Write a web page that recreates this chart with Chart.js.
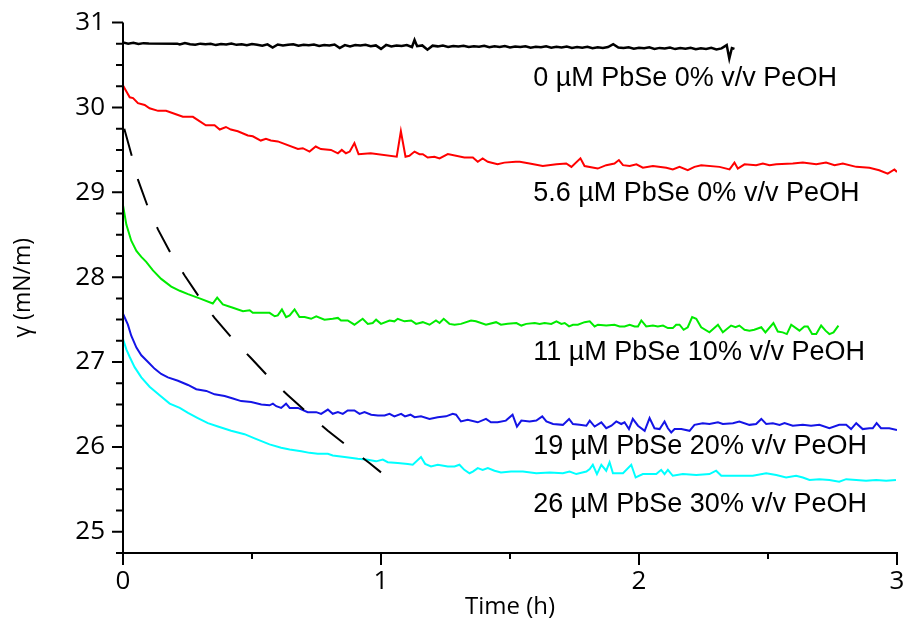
<!DOCTYPE html>
<html>
<head>
<meta charset="utf-8">
<script src="https://cdn.jsdelivr.net/npm/chart.js@4.4.0/dist/chart.umd.min.js"></script>
<style>
  html, body { margin: 0; padding: 0; background: #fff; }
</style>
</head>
<body>
<canvas id="myChart" width="908" height="629"></canvas>
<script>
// surface tension vs time
const seriesNames = [
    '0 µM PbSe 0% v/v PeOH',
    '5.6 µM PbSe 0% v/v PeOH',
    '11 µM PbSe 10% v/v PeOH',
    '19 µM PbSe 20% v/v PeOH',
    '26 µM PbSe 30% v/v PeOH',
];

const xMajor = [0, 1, 2, 3];
const xMinor = [0.5, 1.5, 2.5];
const yMajor = [25, 26, 27, 28, 29, 30, 31];
const yMinor = [24.75, 25.25, 25.5, 25.75, 26.25, 26.5, 26.75, 27.25, 27.5, 27.75, 28.25, 28.5, 28.75,
    29.25, 29.5, 29.75, 30.25, 30.5, 30.75];

const blackTime = [0, 0.02, 0.04, 0.06, 0.08, 0.10, 0.21, 0.22, 0.24, 0.26,
    0.28, 0.30, 0.32, 0.34, 0.36, 0.38, 0.40, 0.42, 0.44, 0.46,
    0.48, 0.50, 0.52, 0.54, 0.56, 0.58, 0.60, 0.62, 0.64, 0.66,
    0.68, 0.70, 0.72, 0.74, 0.76, 0.78, 0.80, 0.82, 0.84, 0.86,
    0.88, 0.90, 0.92, 0.94, 0.96, 0.98, 1.00, 1.02, 1.04, 1.06,
    1.08, 1.10, 1.12, 1.13, 1.14, 1.16, 1.18, 1.20, 1.22, 1.24,
    1.26, 1.28, 1.30, 1.32, 1.34, 1.36, 1.38, 1.40, 1.42, 1.44,
    1.46, 1.48, 1.50, 1.52, 1.54, 1.56, 1.58, 1.60, 1.62, 1.64,
    1.66, 1.68, 1.70, 1.72, 1.74, 1.76, 1.78, 1.80, 1.82, 1.84,
    1.86, 1.88, 1.90, 1.92, 1.94, 1.96, 1.98, 2.00, 2.02, 2.04,
    2.06, 2.08, 2.10, 2.12, 2.14, 2.16, 2.18, 2.20, 2.22, 2.24,
    2.26, 2.28, 2.30, 2.32, 2.34, 2.35, 2.36, 2.37];
const blackVals = [30.765, 30.752, 30.761, 30.748, 30.758, 30.755, 30.752, 30.742, 30.760, 30.745,
    30.738, 30.752, 30.744, 30.750, 30.735, 30.748, 30.742, 30.754, 30.738, 30.745,
    30.733, 30.747, 30.740, 30.728, 30.744, 30.705, 30.742, 30.730, 30.739, 30.745,
    30.727, 30.738, 30.733, 30.741, 30.724, 30.737, 30.730, 30.742, 30.700, 30.735,
    30.720, 30.736, 30.729, 30.738, 30.722, 30.731, 30.690, 30.737, 30.718, 30.730,
    30.724, 30.735, 30.712, 30.795, 30.722, 30.731, 30.680, 30.728, 30.720, 30.730,
    30.714, 30.725, 30.719, 30.728, 30.712, 30.722, 30.716, 30.727, 30.709, 30.720,
    30.714, 30.724, 30.707, 30.718, 30.712, 30.722, 30.705, 30.716, 30.709, 30.720,
    30.703, 30.714, 30.708, 30.718, 30.700, 30.712, 30.704, 30.714, 30.698, 30.709,
    30.702, 30.712, 30.745, 30.706, 30.700, 30.710, 30.693, 30.704, 30.697, 30.708,
    30.690, 30.702, 30.695, 30.706, 30.688, 30.700, 30.693, 30.704, 30.686, 30.698,
    30.690, 30.702, 30.684, 30.696, 30.735, 30.575, 30.700, 30.690];

const redTime = [0, 0.026, 0.039, 0.058, 0.084, 0.103, 0.136, 0.167, 0.205, 0.232,
    0.271, 0.321, 0.355, 0.375, 0.399, 0.418, 0.445, 0.484, 0.503, 0.534,
    0.554, 0.573, 0.600, 0.678, 0.697, 0.723, 0.747, 0.767, 0.806, 0.833,
    0.848, 0.864, 0.879, 0.897, 0.913, 0.960, 1.061, 1.077, 1.095, 1.110,
    1.130, 1.149, 1.162, 1.181, 1.207, 1.227, 1.259, 1.323, 1.356, 1.375,
    1.394, 1.414, 1.452, 1.478, 1.522, 1.538, 1.576, 1.627, 1.680, 1.718,
    1.738, 1.773, 1.789, 1.840, 1.873, 1.905, 1.922, 1.938, 1.964, 1.990,
    2.015, 2.054, 2.106, 2.131, 2.157, 2.189, 2.215, 2.241, 2.312, 2.351,
    2.370, 2.383, 2.409, 2.454, 2.480, 2.506, 2.532, 2.596, 2.635, 2.687,
    2.725, 2.758, 2.790, 2.842, 2.893, 2.931, 2.964, 2.990, 3.0];
const redVals = [30.26, 30.12, 30.11, 30.05, 30.03, 29.99, 29.96, 29.96, 29.92, 29.89,
    29.89, 29.79, 29.79, 29.74, 29.77, 29.74, 29.72, 29.67, 29.66, 29.61,
    29.63, 29.61, 29.60, 29.51, 29.52, 29.48, 29.54, 29.51, 29.50, 29.46,
    29.50, 29.46, 29.48, 29.58, 29.45, 29.46, 29.42, 29.72, 29.42, 29.43,
    29.48, 29.45, 29.45, 29.41, 29.42, 29.40, 29.45, 29.41, 29.41, 29.36,
    29.40, 29.36, 29.33, 29.35, 29.36, 29.36, 29.34, 29.31, 29.33, 29.34,
    29.30, 29.40, 29.31, 29.28, 29.32, 29.34, 29.38, 29.32, 29.31, 29.33,
    29.29, 29.31, 29.29, 29.27, 29.30, 29.26, 29.30, 29.32, 29.30, 29.27,
    29.35, 29.28, 29.33, 29.32, 29.34, 29.32, 29.33, 29.34, 29.35, 29.33,
    29.35, 29.32, 29.34, 29.30, 29.29, 29.26, 29.22, 29.27, 29.24];

const greenTime = [0, 0.013, 0.032, 0.052, 0.071, 0.090, 0.116, 0.148, 0.187, 0.220,
    0.252, 0.297, 0.348, 0.365, 0.387, 0.426, 0.465, 0.491, 0.503, 0.568,
    0.588, 0.600, 0.616, 0.632, 0.646, 0.665, 0.684, 0.704, 0.729, 0.749,
    0.781, 0.813, 0.833, 0.845, 0.871, 0.897, 0.929, 0.949, 0.968, 0.981,
    1.000, 1.033, 1.052, 1.065, 1.091, 1.117, 1.136, 1.162, 1.188, 1.213,
    1.227, 1.243, 1.265, 1.285, 1.310, 1.349, 1.368, 1.407, 1.446, 1.465,
    1.491,
    1.525, 1.544, 1.563, 1.596, 1.615, 1.634, 1.660, 1.680, 1.699, 1.712,
    1.729, 1.744, 1.763, 1.789, 1.809, 1.828, 1.841, 1.873, 1.905, 1.925,
    1.944, 1.964, 1.983, 1.996, 2.009, 2.028, 2.054, 2.073, 2.093, 2.112,
    2.131, 2.144, 2.157, 2.173, 2.189, 2.206, 2.222, 2.241, 2.273, 2.306,
    2.325, 2.357, 2.374, 2.389, 2.409, 2.428, 2.447, 2.474, 2.490, 2.521,
    2.538, 2.557, 2.573, 2.590, 2.622, 2.641, 2.654, 2.671, 2.687, 2.706,
    2.723, 2.738, 2.754, 2.773];
const greenVals = [28.85, 28.62, 28.43, 28.31, 28.24, 28.18, 28.08, 27.98, 27.89, 27.84,
    27.80, 27.75, 27.69, 27.76, 27.68, 27.64, 27.60, 27.61, 27.58, 27.58,
    27.54, 27.55, 27.62, 27.53, 27.55, 27.62, 27.53, 27.53, 27.51, 27.54,
    27.50, 27.51, 27.52, 27.49, 27.49, 27.44, 27.51, 27.45, 27.46, 27.50,
    27.45, 27.49, 27.48, 27.51, 27.48, 27.49, 27.45, 27.47, 27.44, 27.49,
    27.46, 27.51, 27.45, 27.44, 27.45, 27.49, 27.48, 27.44, 27.47, 27.44,
    27.45,
    27.46, 27.43, 27.45, 27.46, 27.45, 27.46, 27.45, 27.48, 27.45, 27.46,
    27.42, 27.44, 27.44, 27.47, 27.48, 27.42, 27.44, 27.43, 27.44, 27.42,
    27.42, 27.44, 27.42, 27.42, 27.49, 27.42, 27.43, 27.42, 27.43, 27.40,
    27.40, 27.44, 27.44, 27.38, 27.41, 27.53, 27.51, 27.41, 27.35, 27.44,
    27.35, 27.43, 27.41, 27.43, 27.38, 27.37, 27.38, 27.41, 27.35, 27.46,
    27.36, 27.35, 27.33, 27.44, 27.37, 27.42, 27.42, 27.33, 27.33, 27.43,
    27.37, 27.33, 27.35, 27.43];

const blueTime = [0, 0.019, 0.032, 0.052, 0.071, 0.097, 0.123, 0.148, 0.174, 0.213,
    0.252, 0.284, 0.323, 0.355, 0.394, 0.426, 0.458, 0.497, 0.536, 0.568,
    0.581, 0.594, 0.613, 0.632, 0.646, 0.678, 0.716, 0.749, 0.768, 0.794,
    0.813, 0.833, 0.852, 0.871, 0.897, 0.917, 0.936, 0.962, 0.988, 1.014,
    1.033, 1.052, 1.078, 1.093, 1.114, 1.130, 1.155, 1.188, 1.220, 1.252,
    1.278, 1.291, 1.310, 1.336, 1.375, 1.407, 1.426, 1.452, 1.484, 1.510,
    1.527, 1.544, 1.576, 1.602, 1.625, 1.641, 1.667, 1.705, 1.729, 1.744,
    1.770, 1.796, 1.809, 1.828, 1.854, 1.873, 1.893, 1.912, 1.931, 1.944,
    1.961, 1.976, 1.996, 2.022, 2.041, 2.060, 2.080, 2.099, 2.112, 2.125,
    2.138, 2.164, 2.196, 2.215, 2.247, 2.273, 2.306, 2.325, 2.364, 2.389,
    2.428, 2.454, 2.474, 2.493, 2.519, 2.545, 2.564, 2.596, 2.635, 2.667,
    2.699, 2.738, 2.776, 2.803, 2.822, 2.842, 2.867, 2.893, 2.906, 2.921,
    2.938, 2.970, 3.0];
const blueVals = [27.57, 27.44, 27.31, 27.17, 27.08, 27.00, 26.92, 26.86, 26.82, 26.78,
    26.73, 26.68, 26.66, 26.62, 26.60, 26.57, 26.54, 26.53, 26.50, 26.49,
    26.51, 26.48, 26.46, 26.51, 26.46, 26.46, 26.41, 26.41, 26.39, 26.44,
    26.39, 26.41, 26.39, 26.43, 26.43, 26.39, 26.41, 26.38, 26.37, 26.37,
    26.39, 26.36, 26.39, 26.36, 26.38, 26.35, 26.36, 26.33, 26.35, 26.36,
    26.39, 26.38, 26.30, 26.32, 26.29, 26.33, 26.29, 26.29, 26.31, 26.38,
    26.24, 26.31, 26.30, 26.31, 26.36, 26.30, 26.27, 26.26, 26.33, 26.27,
    26.26, 26.25, 26.31, 26.24, 26.29, 26.22, 26.25, 26.30, 26.27, 26.29,
    26.21, 26.33, 26.25, 26.19, 26.34, 26.22, 26.21, 26.30, 26.22, 26.17,
    26.21, 26.21, 26.19, 26.26, 26.28, 26.27, 26.29, 26.27, 26.28, 26.30,
    26.26, 26.27, 26.33, 26.27, 26.28, 26.26, 26.28, 26.25, 26.26, 26.25,
    26.26, 26.22, 26.26, 26.26, 26.21, 26.28, 26.21, 26.22, 26.22, 26.28,
    26.22, 26.22, 26.20];

const cyanTime = [0, 0.013, 0.026, 0.045, 0.071, 0.103, 0.142, 0.181, 0.220, 0.252,
    0.290, 0.329, 0.368, 0.419, 0.471, 0.510, 0.568, 0.613, 0.646, 0.691,
    0.723, 0.755, 0.794, 0.813, 0.859, 0.910, 0.949, 0.981, 1.007, 1.026,
    1.065, 1.104, 1.123, 1.155, 1.171, 1.194, 1.220, 1.259, 1.285, 1.304,
    1.323, 1.343, 1.356, 1.375, 1.394, 1.414, 1.440, 1.465, 1.504, 1.550,
    1.602, 1.654, 1.705, 1.731, 1.757, 1.796, 1.809, 1.821, 1.837, 1.854,
    1.873, 1.886, 1.899, 1.938, 1.970, 1.987, 2.015, 2.067, 2.086, 2.099,
    2.112, 2.131, 2.170, 2.222, 2.273, 2.299, 2.319, 2.377, 2.441, 2.493,
    2.532, 2.570, 2.609, 2.635, 2.661, 2.699, 2.738, 2.776, 2.803, 2.842,
    2.880, 2.919, 2.958, 2.996];
const cyanVals = [27.27, 27.15, 27.06, 26.94, 26.82, 26.71, 26.61, 26.51, 26.46, 26.40,
    26.34, 26.28, 26.24, 26.19, 26.15, 26.10, 26.03, 25.99, 25.97, 25.95,
    25.93, 25.92, 25.92, 25.90, 25.88, 25.86, 25.85, 25.83, 25.85, 25.82,
    25.81, 25.80, 25.79, 25.88, 25.80, 25.77, 25.79, 25.77, 25.77, 25.79,
    25.73, 25.69, 25.71, 25.75, 25.73, 25.75, 25.72, 25.70, 25.71, 25.71,
    25.69, 25.70, 25.69, 25.71, 25.68, 25.71, 25.74, 25.79, 25.68, 25.79,
    25.72, 25.82, 25.69, 25.69, 25.79, 25.64, 25.68, 25.68, 25.73, 25.68,
    25.73, 25.66, 25.68, 25.67, 25.68, 25.72, 25.66, 25.66, 25.66, 25.69,
    25.67, 25.64, 25.66, 25.64, 25.61, 25.62, 25.61, 25.59, 25.62, 25.61,
    25.60, 25.61, 25.60, 25.61];

// dashed guide line
const dashTime = [0.005, 0.034, 0.059, 0.096, 0.136, 0.187, 0.239, 0.301, 0.355, 0.426,
    0.495, 0.569, 0.639, 0.719, 0.794, 0.878, 0.955, 1.0];
const dashVals = [29.75, 29.43, 29.14, 28.83, 28.56, 28.27, 28.02, 27.74, 27.52, 27.27,
    27.05, 26.81, 26.61, 26.39, 26.19, 25.99, 25.81, 25.70];

function pts(ts, vs) {
    return ts.map((t, i) => ({ x: t, y: vs[i] }));
}

const tickFont = { family: '"Open Sans", sans-serif', size: 26 };
const black = '#000';

// axes lines, in/out ticks and the curve captions
const axisPlugin = {
    id: 'axisPlugin',
    afterDraw(chart) {
        const ctx = chart.ctx;
        const xs = chart.scales.x;
        const ys = chart.scales.y;
        const left = xs.getPixelForValue(0);
        const right = xs.getPixelForValue(3);
        const top = ys.getPixelForValue(31);
        const bottom = ys.getPixelForValue(24.75);
        ctx.save();
        ctx.strokeStyle = black;
        ctx.lineWidth = 2;
        ctx.beginPath();
        ctx.moveTo(left, top);
        ctx.lineTo(left, bottom);
        ctx.moveTo(left, bottom);
        ctx.lineTo(right + 1, bottom);
        yMajor.forEach(v => {
            const p = ys.getPixelForValue(v);
            ctx.moveTo(left - 11, p);
            ctx.lineTo(left, p);
        });
        yMinor.forEach(v => {
            const p = ys.getPixelForValue(v);
            ctx.moveTo(left - 7, p);
            ctx.lineTo(left, p);
        });
        xMajor.forEach(v => {
            const p = xs.getPixelForValue(v);
            ctx.moveTo(p, bottom);
            ctx.lineTo(p, bottom + 12);
        });
        xMinor.forEach(v => {
            const p = xs.getPixelForValue(v);
            ctx.moveTo(p, bottom);
            ctx.lineTo(p, bottom + 6);
        });
        ctx.stroke();

        const captionY = [30.258, 28.90, 27.02, 25.92, 25.234];
        ctx.fillStyle = black;
        ctx.font = '27px "Liberation Sans", Arial, sans-serif';
        ctx.textAlign = 'left';
        ctx.textBaseline = 'alphabetic';
        seriesNames.forEach((s, i) => {
            ctx.fillText(s, xs.getPixelForValue(1.59), ys.getPixelForValue(captionY[i]));
        });
        ctx.restore();
    }
};

const line = (data, color, width) => ({
    data: data,
    borderColor: color,
    backgroundColor: color,
    borderWidth: width || 2,
    pointRadius: 0,
    tension: 0,
    fill: false,
});

const data = {
    datasets: [
        Object.assign(line(pts(dashTime, dashVals), black), { borderDash: [28, 24] }),
        line(pts(blackTime, blackVals), black, 2.5),
        line(pts(redTime, redVals), 'rgb(255, 0, 0)'),
        line(pts(greenTime, greenVals), 'rgb(0, 235, 0)'),
        line(pts(blueTime, blueVals), 'rgb(20, 20, 230)'),
        line(pts(cyanTime, cyanVals), 'rgb(0, 255, 255)'),
    ]
};

const config = {
    type: 'line',
    data: data,
    options: {
        responsive: false,
        animation: false,
        devicePixelRatio: 1,
        layout: { padding: { top: 15, right: 11, left: 0, bottom: 0 } },
        plugins: { legend: { display: false }, tooltip: { enabled: false } },
        scales: {
            x: {
                type: 'linear',
                min: 0,
                max: 3,
                afterFit: s => { s.height = 76; },
                afterBuildTicks: s => { s.ticks = xMajor.map(v => ({ value: v })); },
                grid: { display: false, drawTicks: true, tickLength: 12 },
                border: { display: false },
                ticks: { color: black, font: tickFont, padding: 1, autoSkip: false, maxRotation: 0 },
                title: {
                    display: true,
                    text: 'Time (h)',
                    color: black,
                    font: { family: '"Open Sans", sans-serif', size: 24 },
                    padding: { top: 0, bottom: 7 },
                },
            },
            y: {
                type: 'linear',
                min: 24.75,
                max: 31,
                afterFit: s => { s.width = 123; },
                afterBuildTicks: s => { s.ticks = yMajor.map(v => ({ value: v })); },
                grid: { display: false, drawTicks: true, tickLength: 11 },
                border: { display: false },
                ticks: { color: black, font: tickFont, padding: 7, autoSkip: false },
                title: {
                    display: true,
                    text: 'γ (mN/m)',
                    color: black,
                    font: { family: '"Open Sans", sans-serif', size: 23 },
                    padding: { top: 10, bottom: 0 },
                },
            },
        },
    },
    plugins: [axisPlugin],
};

const myChart = new Chart(
    document.getElementById('myChart'),
    config
);
</script>
</body>
</html>
